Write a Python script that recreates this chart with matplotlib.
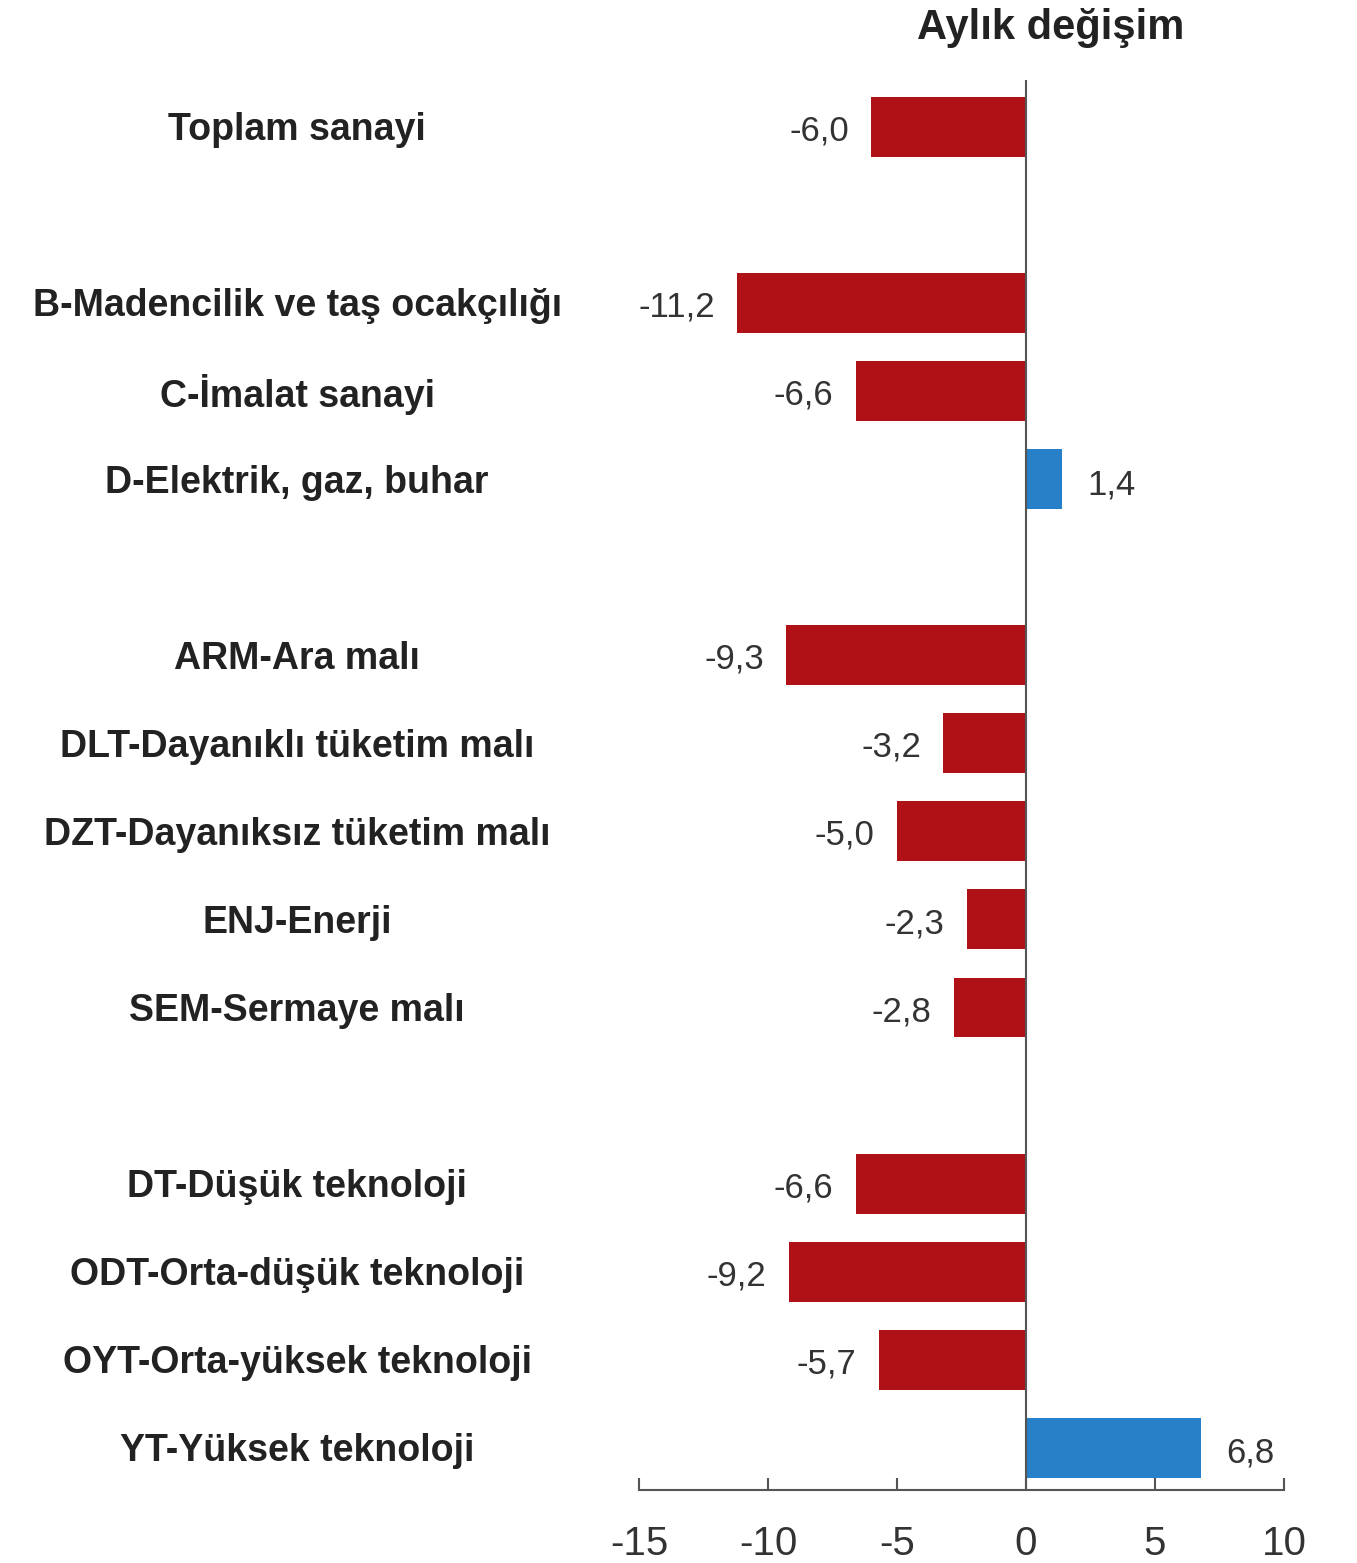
import matplotlib
matplotlib.use("Agg")
import matplotlib.pyplot as plt
from matplotlib.transforms import blended_transform_factory
from matplotlib import font_manager

categories = [
    "Toplam sanayi",
    "B-Madencilik ve taş ocakçılığı",
    "C-İmalat sanayi",
    "D-Elektrik, gaz, buhar",
    "ARM-Ara malı",
    "DLT-Dayanıklı tüketim malı",
    "DZT-Dayanıksız tüketim malı",
    "ENJ-Enerji",
    "SEM-Sermaye malı",
    "DT-Düşük teknoloji",
    "ODT-Orta-düşük teknoloji",
    "OYT-Orta-yüksek teknoloji",
    "YT-Yüksek teknoloji",
]
values = [-6.0, -11.2, -6.6, 1.4, -9.3, -3.2, -5.0, -2.3, -2.8, -6.6, -9.2, -5.7, 6.8]
# row slots (gaps between groups)
rows = [0, 2, 3, 4, 6, 7, 8, 9, 10, 12, 13, 14, 15]
xticks = [-15, -10, -5, 0, 5, 10]

red = "#B01116"
blue = "#2880C8"

names = {f.name for f in font_manager.fontManager.ttflist}
narrow = "Liberation Sans Narrow" if "Liberation Sans Narrow" in names else "Liberation Sans"
plt.rcParams["font.family"] = ["Liberation Sans", "DejaVu Sans"]

fig = plt.figure(figsize=(13.57, 15.63), dpi=100)
ax = fig.add_axes([0.4709, 0.0467, 0.4753, 0.902])

colors = [red if v < 0 else blue for v in values]
ax.barh(rows, values, height=0.68, color=colors)
ax.axvline(0, color="#555555", lw=1.5)

ax.set_xlim(-15, 10)
ax.set_ylim(15.48, -0.53)
ax.set_xticks(xticks)
ax.set_xticklabels([str(t) for t in xticks], fontsize=29, family=narrow, color="#333333")
ax.tick_params(axis="x", direction="in", length=9, width=1.5, color="#555555", pad=25)
ax.set_yticks([])
for s in ["left", "top", "right"]:
    ax.spines[s].set_visible(False)
ax.spines["bottom"].set_color("#555555")
ax.spines["bottom"].set_linewidth(1.5)

for r, v in zip(rows, values):
    txt = f"{v:.1f}".replace(".", ",")
    if v < 0:
        ax.annotate(txt, (v, r), xytext=(-16, -3), textcoords="offset points",
                    ha="right", va="center", fontsize=25, family=narrow, color="#333333")
    else:
        ax.annotate(txt, (v, r), xytext=(18, -4), textcoords="offset points",
                    ha="left", va="center", fontsize=25, family=narrow, color="#333333")

tr = blended_transform_factory(fig.transFigure, ax.transData)
for r, c in zip(rows, categories):
    ax.text(0.219, r + 0.04, c, transform=tr, ha="center", va="center",
            fontsize=27, fontweight="bold", color="#222222")

fig.text(0.774, 0.982, "Aylık değişim", ha="center", va="center",
         fontsize=30, fontweight="bold", color="#222222")

fig.savefig("out.png", dpi=100)
